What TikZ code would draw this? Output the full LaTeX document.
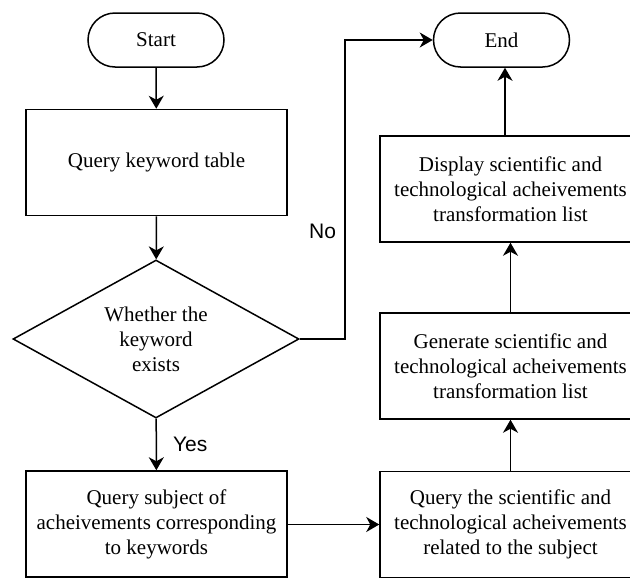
\documentclass[tikz,border=0pt]{standalone}
\usepackage{fontspec}
\setmainfont{Liberation Serif}
\newfontfamily\labelfont{Liberation Sans}
\usetikzlibrary{arrows.meta}
\usetikzlibrary{shapes.geometric}
\tikzset{
    flownode/.style={draw,line width=1.5pt,font=\fontsize{21}{25}\selectfont,align=center,inner sep=0pt},
    termnode/.style={flownode,minimum width=136pt,minimum height=54pt,rounded corners=27pt},
    boxnode/.style={flownode,minimum width=261pt,minimum height=106pt},
    decnode/.style={flownode,diamond,aspect=1.8,minimum width=286pt,minimum height=158pt},
    lbl/.style={font=\labelfont\fontsize{21}{25}\selectfont,inner sep=2pt},
    flow/.style={-{Stealth[length=13pt,width=15pt,inset=4pt]},line width=1.5pt}
}

\begin{document}
\begin{tikzpicture}[x=1pt,y=1pt]
        \useasboundingbox (0,0) rectangle (630,-579);

        % figures
        \node[termnode] (start) at (156,-40) {Start}; % terminal
        \node[boxnode] (query) at (156.5,-162.5) {Query keyword table};
        \node[decnode] (exists) at (156,-339) {Whether the\\keyword\\exists}; % rhombus
        \node[boxnode] (subj) at (156.5,-524) {Query subject of\\acheivements corresponding\\to keywords};
        \node[boxnode] (relsci) at (510.5,-524.5) {Query the scientific and\\technological acheivements\\related to the subject};
        \node[boxnode] (gen) at (510.5,-366) {Generate scientific and\\technological acheivements\\transformation list};
        \node[boxnode] (disp) at (510.5,-189) {Display scientific and\\technological acheivements\\transformation list};
        \node[termnode] (end) at (501.5,-40) {End}; % terminal

        %arrows
        \draw[flow] (start) -- (query);
        \draw[flow] (query) -- (exists);
        \draw[flow] (exists) -- node[lbl,right=14pt] (lblyes) {Yes} (subj);
        \draw[flow] (exists.east) -- ++(45,0) |- node[lbl,left=6pt,pos=0.18] (lblno) {No} (end.west);
        \draw[flow] (subj.east |- relsci.west) -- (relsci.west);
        \draw[flow] (relsci) -- (gen);
        \draw[flow] (gen) -- (disp);
        \draw[flow] ([xshift=3.5pt]end.south |- disp.north) -- ([xshift=3.5pt]end.south);
\end{tikzpicture}
\end{document}
